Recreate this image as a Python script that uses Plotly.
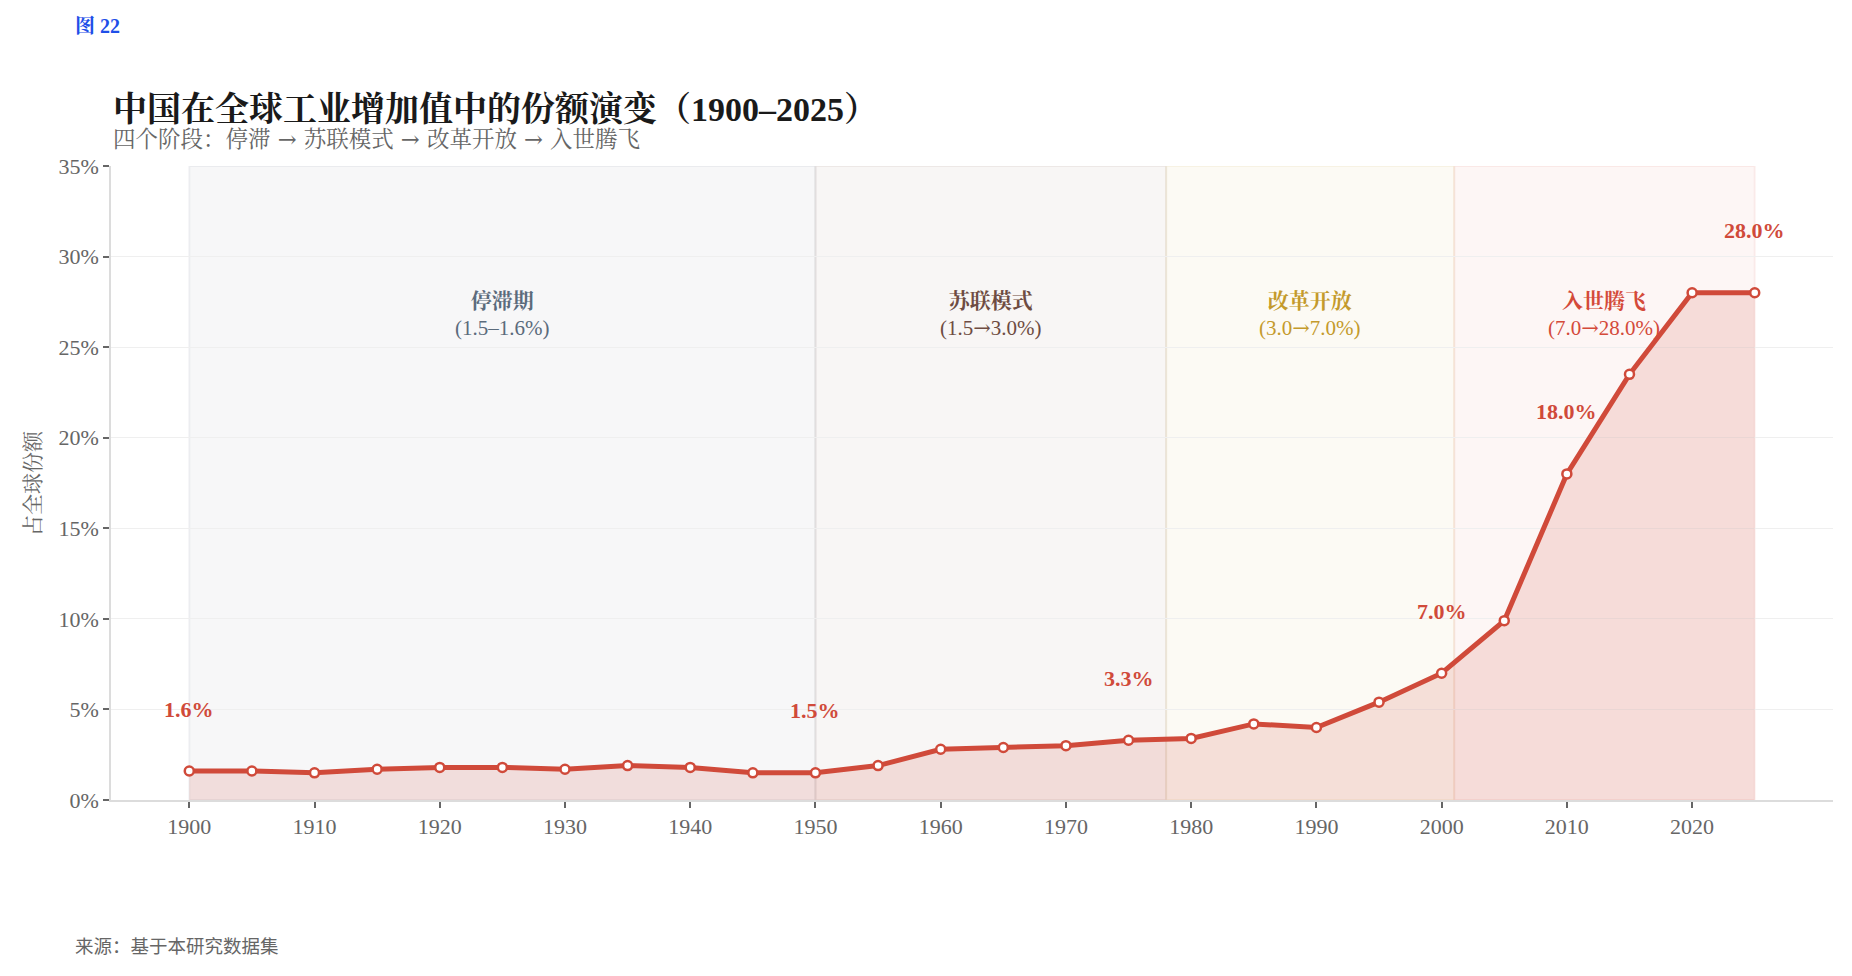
import plotly.graph_objects as go

# ---------------- data ----------------
years = [1900, 1905, 1910, 1915, 1920, 1925, 1930, 1935, 1940, 1945, 1950, 1955, 1960,
         1965, 1970, 1975, 1980, 1985, 1990, 1995, 2000, 2005, 2010, 2015, 2020, 2025]
share = [1.6, 1.6, 1.5, 1.7, 1.8, 1.8, 1.7, 1.9, 1.8, 1.5, 1.5, 1.9, 2.8,
         2.9, 3.0, 3.3, 3.4, 4.2, 4.0, 5.4, 7.0, 9.9, 18.0, 23.5, 28.0, 28.0]

label_years = [1900, 1950, 1975, 2000, 2010, 2025]

phase_names = ["停滞期", "苏联模式", "改革开放", "入世腾飞"]
phase_ranges = ["(1.5–1.6%)", "(1.5→3.0%)", "(3.0→7.0%)", "(7.0→28.0%)"]
phase_start = [1900, 1950, 1978, 2001]
phase_end = [1950, 1978, 2001, 2025]
phase_rgb = [(91, 107, 124), (110, 76, 66), (196, 154, 44), (212, 74, 58)]

y_ticks = [0, 5, 10, 15, 20, 25, 30, 35]
y_ticktext = ["0%", "5%", "10%", "15%", "20%", "25%", "30%", "35%"]
x_ticks = [1900, 1910, 1920, 1930, 1940, 1950, 1960, 1970, 1980, 1990, 2000, 2010, 2020]

title = "中国在全球工业增加值中的份额演变（1900–2025）"
subtitle = "四个阶段：停滞 → 苏联模式 → 改革开放 → 入世腾飞"
fig_label = "图 22"
source = "来源：基于本研究数据集"
y_title = "占全球份额"

# ---------------- style ----------------
RED = "#d04a3a"
SERIF = "Liberation Serif, 'Noto Serif CJK SC', 'Noto Sans CJK SC', serif"
SANS = "'Noto Sans CJK SC', 'Noto Sans', sans-serif"
ARROW = "<span style=\"font-family:'DejaVu Serif'\">→</span>"
SP_ARROW = "<span style=\"font-family:'DejaVu Serif'\"> → </span>"

W, H = 1852, 976
ML, MR, MT, MB = 111, 19, 166, 176
PW, PH = W - ML - MR, H - MT - MB


def px_x(px):
    return (px - ML) / PW


def px_y(py):
    return (H - MB - py) / PH


def arrows(s):
    return s.replace("→", ARROW)


fig = go.Figure()

fig.add_trace(go.Scatter(
    x=years, y=share, mode="lines+markers",
    line=dict(color=RED, width=5),
    marker=dict(size=9, color="white", line=dict(color=RED, width=2.5)),
    fill="tozeroy", fillcolor="rgba(208,74,58,0.15)",
    hoverinfo="skip", showlegend=False,
))

# phase backgrounds
for name, rng, x0, x1, (r, g, b) in zip(phase_names, phase_ranges, phase_start, phase_end, phase_rgb):
    fig.add_shape(type="rect", xref="x", yref="y", x0=x0, x1=x1, y0=0, y1=35,
                  fillcolor=f"rgba({r},{g},{b},0.05)",
                  line=dict(color=f"rgba({r},{g},{b},0.08)", width=2),
                  layer="below")
    fig.add_annotation(x=(x0 + x1) / 2, y=26.8, xref="x", yref="y",
                       text=f"<b>{name}</b><br>{arrows(rng)}", showarrow=False,
                       font=dict(family=SERIF, size=21, color=f"rgb({r},{g},{b})"),
                       align="center", yanchor="middle")

# data labels
for yr in label_years:
    v = share[years.index(yr)]
    fig.add_annotation(x=yr, y=v, xref="x", yref="y", text=f"<b>{v:.1f}%</b>",
                       showarrow=False, yshift=62, yanchor="middle",
                       font=dict(family=SERIF, size=22, color=RED))

# titles / texts
fig.add_annotation(xref="paper", yref="paper", x=px_x(73), y=px_y(26), text=f"<b>{fig_label}</b>",
                   showarrow=False, xanchor="left", yanchor="middle",
                   font=dict(family=SERIF, size=20, color="#1f4fe8"))
fig.add_annotation(xref="paper", yref="paper", x=px_x(111), y=px_y(109), text=f"<b>{title}</b>",
                   showarrow=False, xanchor="left", yanchor="middle",
                   font=dict(family=SERIF, size=34, color="#1a1a1a"))
fig.add_annotation(xref="paper", yref="paper", x=px_x(111), y=px_y(139),
                   text=subtitle.replace(" → ", SP_ARROW),
                   showarrow=False, xanchor="left", yanchor="middle",
                   font=dict(family=SERIF, size=22.5, color="#666666"))
fig.add_annotation(xref="paper", yref="paper", x=px_x(73), y=px_y(945), text=source,
                   showarrow=False, xanchor="left", yanchor="middle",
                   font=dict(family=SANS, size=18.5, color="#666666"))
fig.add_annotation(xref="paper", yref="paper", x=px_x(33), y=0.5, text=y_title, textangle=-90,
                   showarrow=False, xanchor="center", yanchor="middle",
                   font=dict(family=SERIF, size=21, color="#666666"))

fig.update_layout(
    width=W, height=H,
    margin=dict(l=ML, r=MR, t=MT, b=MB),
    paper_bgcolor="white", plot_bgcolor="white",
    font=dict(family=SERIF, color="#666666"),
    showlegend=False,
    xaxis=dict(range=[1893.75, 2031.25], tickvals=x_ticks, ticks="outside", ticklen=6,
               tickcolor="#666666", tickwidth=1.5, showgrid=False, zeroline=False,
               showline=True, linecolor="#dcdcdc", linewidth=1.5,
               tickfont=dict(family=SERIF, size=22, color="#666666")),
    yaxis=dict(range=[0, 35], tickvals=y_ticks, ticktext=y_ticktext, ticks="outside", ticklen=6,
               tickcolor="#666666", tickwidth=1.5, showgrid=True, gridcolor="#efefef",
               gridwidth=1.2, zeroline=False, showline=True, linecolor="#dcdcdc",
               linewidth=1.5, tickfont=dict(family=SERIF, size=22, color="#666666")),
)

fig.write_html("out.html")
